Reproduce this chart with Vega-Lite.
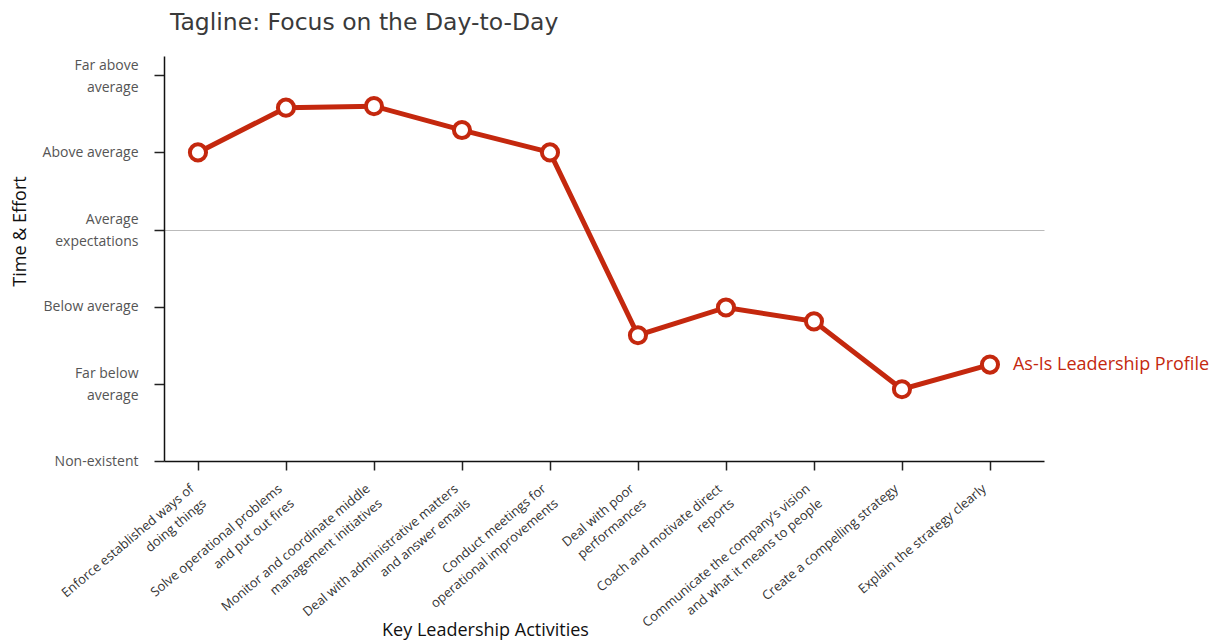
{
  "$schema": "https://vega.github.io/schema/vega-lite/v6.json",
  "autosize": "none",
  "width": 880,
  "height": 405,
  "padding": {"left": 164, "top": 56, "right": 169, "bottom": 183},
  "background": "white",
  "title": {
    "text": "Tagline: Focus on the Day-to-Day",
    "anchor": "start",
    "frame": "group",
    "font": "DejaVu Sans",
    "fontSize": 23.5,
    "fontWeight": "normal",
    "color": "#3a3a3a",
    "offset": 22,
    "dx": 6
  },
  "data": {
    "values": [
      {"activity": "Enforce established ways of|doing things", "level": 4.0},
      {"activity": "Solve operational problems|and put out fires", "level": 4.58},
      {"activity": "Monitor and coordinate middle|management initiatives", "level": 4.6},
      {"activity": "Deal with administrative matters|and answer emails", "level": 4.29},
      {"activity": "Conduct meetings for|operational improvements", "level": 4.0},
      {"activity": "Deal with poor|performances", "level": 1.63},
      {"activity": "Coach and motivate direct|reports", "level": 1.99},
      {"activity": "Communicate the company’s vision|and what it means to people", "level": 1.81},
      {"activity": "Create a compelling strategy", "level": 0.93},
      {"activity": "Explain the strategy clearly", "level": 1.25, "series": "As-Is Leadership Profile"}
    ]
  },
  "encoding": {
    "x": {
      "field": "activity",
      "type": "ordinal",
      "sort": null,
      "scale": {"type": "point", "padding": 0.5, "align": 0.386},
      "axis": {
        "title": "Key Leadership Activities",
        "titleFont": "Open Sans",
        "titleFontSize": 18,
        "titleFontWeight": "normal",
        "titleColor": "#111",
        "titleX": 321,
        "titleY": 174,
        "titleAnchor": null,
        "titleAlign": "center",
        "titleBaseline": "alphabetic",
        "labelExpr": "split(datum.label, '|')",
        "labelAngle": -40,
        "labelAlign": "right",
        "labelBaseline": "top",
        "labelFont": "Open Sans",
        "labelFontSize": 13,
        "labelLineHeight": 19,
        "labelColor": "#333",
        "labelPadding": 12,
        "labelOffset": -10,
        "labelOverlap": false,
        "labelLimit": 0,
        "tickSize": 9,
        "tickColor": "#222",
        "tickWidth": 1.5,
        "domainColor": "#111",
        "domainWidth": 1.5,
        "grid": false
      }
    },
    "y": {
      "field": "level",
      "type": "quantitative",
      "scale": {"domain": [0, 5.25], "nice": false, "zero": true},
      "axis": {
        "title": "Time & Effort",
        "titleFont": "Open Sans",
        "titleFontSize": 18,
        "titleFontWeight": "normal",
        "titleColor": "#111",
        "titleAngle": -90,
        "titleX": -144,
        "titleY": 175,
        "titleAlign": "center",
        "titleBaseline": "middle",
        "values": [0, 1, 2, 3, 4, 5],
        "labelExpr": "[['Non-existent'], ['Far below', 'average'], ['Below average'], ['Average', 'expectations'], ['Above average'], ['Far above', 'average']][datum.value]",
        "labelFont": "Open Sans",
        "labelFontSize": 14,
        "labelLineHeight": 22,
        "labelColor": "#555",
        "labelPadding": 16,
        "labelBaseline": "middle",
        "labelOffset": {"expr": "datum.value % 2 === 1 ? -10 : 0"},
        "tickSize": 10,
        "tickColor": "#222",
        "tickWidth": 1.5,
        "domainColor": "#111",
        "domainWidth": 1.5,
        "grid": true,
        "gridColor": "#bbb",
        "gridWidth": 1,
        "gridOpacity": {"expr": "datum.value === 3 ? 1 : 0"}
      }
    }
  },
  "layer": [
    {
      "mark": {"type": "line", "color": "#c4280e", "strokeWidth": 5}
    },
    {
      "mark": {"type": "point", "shape": "circle", "filled": true, "fill": "white", "stroke": "#c4280e", "strokeWidth": 4, "size": 260, "opacity": 1}
    },
    {
      "transform": [{"filter": "isValid(datum.series)"}],
      "mark": {"type": "text", "align": "left", "baseline": "middle", "dx": 23, "font": "Open Sans", "fontSize": 18, "color": "#c4280e"},
      "encoding": {"text": {"field": "series"}}
    }
  ],
  "config": {
    "view": {"stroke": null}
  }
}
